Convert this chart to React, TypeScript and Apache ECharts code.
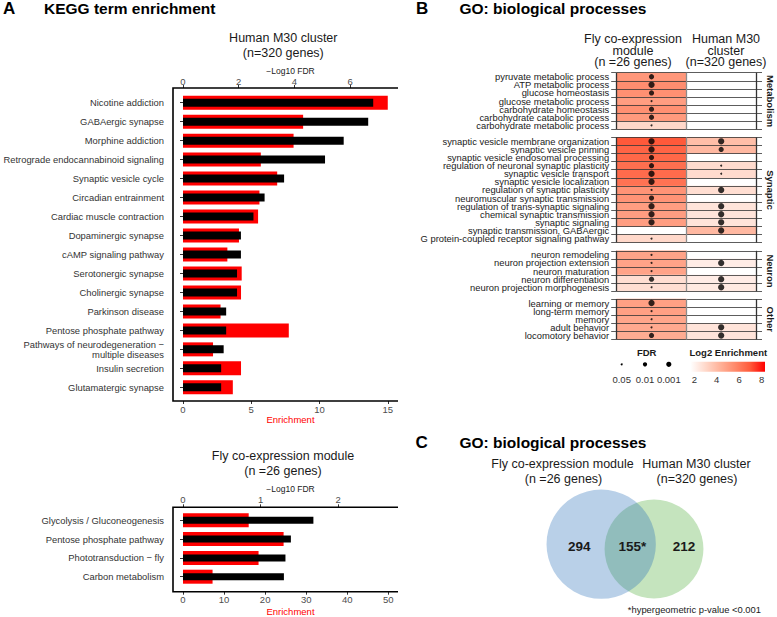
import { useEffect, useRef } from 'react';
import * as echarts from 'echarts';

const FONT = '"Liberation Sans", Arial, Helvetica, sans-serif';

// ---------- Panel A: KEGG, Human M30 cluster ----------
const humanKeggTerms = [
  'Nicotine addiction',
  'GABAergic synapse',
  'Morphine addiction',
  'Retrograde endocannabinoid signaling',
  'Synaptic vesicle cycle',
  'Circadian entrainment',
  'Cardiac muscle contraction',
  'Dopaminergic synapse',
  'cAMP signaling pathway',
  'Serotonergic synapse',
  'Cholinergic synapse',
  'Parkinson disease',
  'Pentose phosphate pathway',
  'Pathways of neurodegeneration \u2212\nmultiple diseases',
  'Insulin secretion',
  'Glutamatergic synapse',
];
const humanKeggEnrichment = [15.0, 8.8, 8.1, 5.7, 6.9, 5.6, 5.5, 4.1, 3.25, 4.3, 4.25, 2.75, 7.75, 2.2, 4.25, 3.65];
const humanKeggLog10FDR = [6.83, 6.65, 5.77, 5.1, 3.63, 2.93, 2.53, 2.08, 2.08, 1.94, 1.94, 1.55, 1.55, 1.46, 1.37, 1.37];
const humanEnrichmentTicks = [0, 5, 10, 15];
const humanFdrTicks = [0, 2, 4, 6];

// ---------- Panel A: KEGG, Fly co-expression module ----------
const flyKeggTerms = [
  'Glycolysis / Gluconeogenesis',
  'Pentose phosphate pathway',
  'Phototransduction \u2212 fly',
  'Carbon metabolism',
];
const flyKeggEnrichment = [16.0, 24.5, 18.4, 7.2];
const flyKeggLog10FDR = [1.68, 1.39, 1.32, 1.3];
const flyEnrichmentTicks = [0, 10, 20, 30, 40, 50];
const flyFdrTicks = [0, 1, 2];

// ---------- Panel B: GO heatmap ----------
const goColumns = ['Fly co-expression module', 'Human M30 cluster'];

const metabolismTerms = [
  'pyruvate metabolic process',
  'ATP metabolic process',
  'glucose homeostasis',
  'glucose metabolic process',
  'carbohydrate homeostasis',
  'carbohydrate catabolic process',
  'carbohydrate metabolic process',
];
const metabolismFlyLog2 = [5.2, 5.5, 5.4, 5.0, 5.4, 5.1, 3.0];
const metabolismHumanLog2 = [null, null, null, null, null, null, null];
const metabolismFlyFDR = [0.001, 0.0001, 0.001, 0.05, 0.001, 0.001, 0.05];
const metabolismHumanFDR = [null, null, null, null, null, null, null];

const synapticTerms = [
  'synaptic vesicle membrane organization',
  'synaptic vesicle priming',
  'synaptic vesicle endosomal processing',
  'regulation of neuronal synaptic plasticity',
  'synaptic vesicle transport',
  'synaptic vesicle localization',
  'regulation of synaptic plasticity',
  'neuromuscular synaptic transmission',
  'regulation of trans-synaptic signaling',
  'chemical synaptic transmission',
  'synaptic signaling',
  'synaptic transmission, GABAergic',
  'G protein-coupled receptor signaling pathway',
];
const synapticFlyLog2 = [7.0, 6.7, 6.6, 6.4, 6.5, 6.3, 5.3, 5.3, 5.0, 5.0, 5.0, null, 3.0];
const synapticHumanLog2 = [3.9, 4.1, null, 2.9, 2.9, null, 2.8, null, 2.6, 2.6, 2.6, 4.1, null];
const synapticFlyFDR = [0.0001, 0.0001, 0.001, 0.001, 0.0001, 0.0001, 0.05, 0.001, 0.0001, 0.0001, 0.0001, null, 0.05];
const synapticHumanFDR = [0.0001, 0.001, null, 0.05, 0.05, null, 0.0001, null, 0.0001, 0.0001, 0.0001, 0.0001, null];

const neuronTerms = [
  'neuron remodeling',
  'neuron projection extension',
  'neuron maturation',
  'neuron differentiation',
  'neuron projection morphogenesis',
];
const neuronFlyLog2 = [4.8, 4.8, 4.8, 2.8, 2.8];
const neuronHumanLog2 = [null, 2.3, null, 2.3, 2.4];
const neuronFlyFDR = [0.05, 0.05, 0.05, 0.001, 0.05];
const neuronHumanFDR = [null, 0.0001, null, 0.0001, 0.0001];

const otherTerms = [
  'learning or memory',
  'long-term memory',
  'memory',
  'adult behavior',
  'locomotory behavior',
];
const otherFlyLog2 = [4.9, 4.9, 4.7, 4.6, 4.5];
const otherHumanLog2 = [null, null, null, 2.6, 2.6];
const otherFlyFDR = [0.0001, 0.05, 0.05, 0.05, 0.001];
const otherHumanFDR = [null, null, null, 0.0001, 0.0001];

const goGroupNames = ['Metabolism', 'Synaptic', 'Neuron', 'Other'];
const fdrLegendValues = [0.05, 0.01, 0.001];
const fdrLegendLabels = ['0.05', '0.01', '0.001'];
const log2Range = [1.65, 8.3];
const log2LegendTicks = [2, 4, 6, 8];

// ---------- Panel C: Venn ----------
const vennFlyOnly = 294;
const vennShared = 155;
const vennHumanOnly = 212;

// ---------- styling / layout ----------
const LOG2_COLORS = ['#FFFFFF', '#FFD9CB', '#FFB299', '#FF896A', '#FF5B3B', '#FF0000'];
const GO_LEFT = 616.7;
const GO_WIDTH = 139.3;
const GO_TOPS = [72.7, 137.3, 250.8, 299];
const GO_ROW = 8.1;

function fdrSize(p: number) {
  if (p <= 0.0001) return 6.3;
  if (p <= 0.001) return 5.2;
  if (p <= 0.01) return 4.3;
  return 2;
}

function txt(x: number, y: number, text: string, o: any = {}) {
  const align = o.align ?? 'center';
  return {
    type: 'text',
    x,
    y,
    rotation: o.rotation ?? 0,
    silent: true,
    z: 10,
    style: {
      text,
      fontFamily: FONT,
      fontSize: o.size ?? 12.5,
      fontWeight: o.weight ?? 'normal',
      fill: o.color ?? '#1a1a1a',
      align,
      verticalAlign: 'middle',
      textAlign: align,
      textVerticalAlign: 'middle',
    },
  };
}

function valueAxis(gridIndex: number, position: string, max: number, ticks: number[], offset: number,
  name: string, nameColor: string, nameSize: number, nameGap: number, labelMargin: number) {
  return {
    type: 'value',
    gridIndex,
    position,
    min: 0,
    max,
    offset,
    name,
    nameLocation: 'middle',
    nameGap,
    nameMoveOverlap: false,
    nameTextStyle: { color: nameColor, fontSize: nameSize, fontFamily: FONT },
    axisLine: { show: false },
    axisTick: { show: true, length: 3, lineStyle: { color: '#333', width: 1 }, customValues: ticks },
    axisLabel: { color: '#4d4d4d', fontSize: 9.5, margin: labelMargin, customValues: ticks, fontFamily: FONT },
    splitLine: { show: false },
  };
}

function catAxis(gridIndex: number, data: string[], offset: number) {
  return {
    type: 'category',
    gridIndex,
    position: 'left',
    inverse: true,
    data,
    offset,
    axisLine: { show: false },
    axisTick: { show: true, alignWithLabel: true, length: 3, interval: 0, lineStyle: { color: '#333', width: 1 } },
    axisLabel: { color: '#333', fontSize: 9.4, margin: 9, interval: 0, lineHeight: 10.6, fontFamily: FONT },
    splitLine: { show: false },
  };
}

function hiddenCat(gridIndex: number, data: string[]) {
  return { type: 'category', gridIndex, position: 'right', inverse: true, data, show: false };
}

function buildOption() {
  const goGroups = [
    { terms: metabolismTerms, fly: metabolismFlyLog2, human: metabolismHumanLog2, flyFdr: metabolismFlyFDR, humanFdr: metabolismHumanFDR },
    { terms: synapticTerms, fly: synapticFlyLog2, human: synapticHumanLog2, flyFdr: synapticFlyFDR, humanFdr: synapticHumanFDR },
    { terms: neuronTerms, fly: neuronFlyLog2, human: neuronHumanLog2, flyFdr: neuronFlyFDR, humanFdr: neuronHumanFDR },
    { terms: otherTerms, fly: otherFlyLog2, human: otherHumanLog2, flyFdr: otherFlyFDR, humanFdr: otherHumanFDR },
  ];

  // KEGG layouts
  const H = { left: 183, top: 93.2, width: 215, height: 303.6, lineTop: 88, lineBottom: 401, lineLeft: 173 };
  const F = { left: 183, top: 510.9, width: 215, height: 75.2, lineTop: 507.3, lineBottom: 591.7, lineLeft: 173 };

  const grids: any[] = [
    { left: H.left, top: H.top, width: H.width, height: H.height, outerBoundsMode: 'none' },
    { left: F.left, top: F.top, width: F.width, height: F.height, outerBoundsMode: 'none' },
    ...goGroups.map((g, i) => ({ left: GO_LEFT, top: GO_TOPS[i], width: GO_WIDTH, height: g.terms.length * GO_ROW, outerBoundsMode: 'none' })),
  ];

  const xAxes: any[] = [
    valueAxis(0, 'bottom', 15.75, humanEnrichmentTicks, H.lineBottom - (H.top + H.height), 'Enrichment', '#FF0000', 9.5, 13.5, 3),
    valueAxis(0, 'top', 7.72, humanFdrTicks, H.top - H.lineTop, '\u2212Log10 FDR', '#1a1a1a', 8.5, 12.5, 1.5),
    valueAxis(1, 'bottom', 52.36, flyEnrichmentTicks, F.lineBottom - (F.top + F.height), 'Enrichment', '#FF0000', 9.5, 15, 2.6),
    valueAxis(1, 'top', 2.77, flyFdrTicks, F.top - F.lineTop, '\u2212Log10 FDR', '#1a1a1a', 8.5, 13.5, 2.6),
    ...goGroups.map((_g, i) => ({
      type: 'category',
      gridIndex: 2 + i,
      data: goColumns,
      z: 5,
      axisLine: { show: false },
      axisTick: { show: false },
      axisLabel: { show: false },
      splitLine: { show: true, interval: 0, lineStyle: { color: ['#333333', '#8c8c8c', '#333333'], width: 1.3 } },
    })),
  ];

  const yAxes: any[] = [
    catAxis(0, humanKeggTerms, H.left - H.lineLeft),
    hiddenCat(0, humanKeggTerms),
    catAxis(1, flyKeggTerms, F.left - F.lineLeft),
    hiddenCat(1, flyKeggTerms),
    ...goGroups.map((g, i) => ({
      type: 'category',
      gridIndex: 2 + i,
      position: 'left',
      inverse: true,
      data: g.terms,
      z: 5,
      axisLine: { show: false },
      axisTick: { show: true, length: 5.5, interval: 0, lineStyle: { color: '#333', width: 0.8 } },
      axisLabel: { color: '#1a1a1a', fontSize: 9.4, margin: 7.5, interval: 0, fontFamily: FONT },
      splitLine: { show: true, interval: 0, lineStyle: { color: '#333', width: 0.8 } },
    })),
    ...goGroups.map((g, i) => ({
      type: 'category',
      gridIndex: 2 + i,
      position: 'right',
      inverse: true,
      data: g.terms,
      z: 5,
      axisLine: { show: false },
      axisTick: { show: true, length: 6, interval: 0, lineStyle: { color: '#333', width: 0.8 } },
      axisLabel: { show: false },
      splitLine: { show: false },
    })),
  ];

  const series: any[] = [
    { type: 'bar', xAxisIndex: 0, yAxisIndex: 0, data: humanKeggEnrichment, barWidth: 14, itemStyle: { color: '#FF0000' }, silent: true, z: 2 },
    { type: 'bar', xAxisIndex: 1, yAxisIndex: 1, data: humanKeggLog10FDR, barWidth: 8, itemStyle: { color: '#000000' }, silent: true, z: 3 },
    { type: 'bar', xAxisIndex: 2, yAxisIndex: 2, data: flyKeggEnrichment, barWidth: 14, itemStyle: { color: '#FF0000' }, silent: true, z: 2 },
    { type: 'bar', xAxisIndex: 3, yAxisIndex: 3, data: flyKeggLog10FDR, barWidth: 7, itemStyle: { color: '#000000' }, silent: true, z: 3 },
  ];

  goGroups.forEach((g, i) => {
    const cells: any[] = [];
    g.terms.forEach((_t, r) => {
      if (g.fly[r] != null) cells.push([0, r, g.fly[r]]);
      if (g.human[r] != null) cells.push([1, r, g.human[r]]);
    });
    series.push({
      type: 'heatmap',
      xAxisIndex: 4 + i,
      yAxisIndex: 4 + i,
      data: cells,
      silent: true,
      z: 2,
      itemStyle: { borderWidth: 0 },
      emphasis: { disabled: true },
    });
  });
  goGroups.forEach((g, i) => {
    const dots: any[] = [];
    g.terms.forEach((_t, r) => {
      if (g.flyFdr[r] != null) dots.push([0, r, g.flyFdr[r]]);
      if (g.humanFdr[r] != null) dots.push([1, r, g.humanFdr[r]]);
    });
    series.push({
      type: 'scatter',
      xAxisIndex: 4 + i,
      yAxisIndex: 4 + i,
      data: dots,
      symbol: 'circle',
      symbolSize: (v: number[]) => fdrSize(v[2]),
      itemStyle: { color: '#000000' },
      silent: true,
      z: 8,
    });
  });

  // ---------- graphics ----------
  const graphic: any[] = [];
  // panel titles
  graphic.push(txt(3, 8.5, 'A', { size: 17, weight: 'bold', align: 'left', color: '#000' }));
  graphic.push(txt(44, 8.7, 'KEGG term enrichment', { size: 15.5, weight: 'bold', align: 'left', color: '#000' }));
  graphic.push(txt(416, 8.5, 'B', { size: 17, weight: 'bold', align: 'left', color: '#000' }));
  graphic.push(txt(459.5, 8.7, 'GO: biological processes', { size: 15.5, weight: 'bold', align: 'left', color: '#000' }));
  graphic.push(txt(415.5, 442.5, 'C', { size: 17, weight: 'bold', align: 'left', color: '#000' }));
  graphic.push(txt(459.5, 442.7, 'GO: biological processes', { size: 15.5, weight: 'bold', align: 'left', color: '#000' }));

  // KEGG subtitles
  graphic.push(txt(283.3, 38.3, 'Human M30 cluster'));
  graphic.push(txt(283.3, 52.5, '(n=320 genes)'));
  graphic.push(txt(283, 456, 'Fly co-expression module'));
  graphic.push(txt(283, 471, '(n =26 genes)'));

  // KEGG frames (left + top + bottom axis lines)
  [H, F].forEach((L) => {
    const right = L.left + L.width;
    graphic.push({
      type: 'polyline',
      silent: true,
      z: 10,
      shape: { points: [[right, L.lineTop], [L.lineLeft, L.lineTop], [L.lineLeft, L.lineBottom], [right, L.lineBottom]] },
      style: { stroke: '#000', lineWidth: 1.6, fill: null },
    });
  });

  // GO column headers
  graphic.push(txt(633, 38.7, 'Fly co-expression'));
  graphic.push(txt(633, 50.7, 'module'));
  graphic.push(txt(633, 62.3, '(n =26 genes)'));
  graphic.push(txt(726, 38.7, 'Human M30'));
  graphic.push(txt(726, 50.7, 'cluster'));
  graphic.push(txt(726, 62.3, '(n=320 genes)'));

  // GO facet strips
  goGroups.forEach((g, i) => {
    const cy = GO_TOPS[i] + (g.terms.length * GO_ROW) / 2;
    graphic.push(txt(770, cy, goGroupNames[i], { size: 9.5, weight: 'bold', rotation: -Math.PI / 2, color: '#1a1a1a' }));
  });

  // GO legends
  graphic.push(txt(646.7, 352.3, 'FDR', { size: 9.5, weight: 'bold', color: '#1a1a1a' }));
  graphic.push(txt(728.3, 352.3, 'Log2 Enrichment', { size: 9.5, weight: 'bold', color: '#1a1a1a' }));
  const fdrLegendX = [621.7, 645, 668.8];
  fdrLegendValues.forEach((p, k) => {
    graphic.push({
      type: 'circle',
      silent: true,
      z: 10,
      shape: { cx: fdrLegendX[k], cy: 364.3, r: fdrSize(p) / 2 },
      style: { fill: '#000' },
    });
    graphic.push(txt(fdrLegendX[k], 379.3, fdrLegendLabels[k], { size: 9.5, color: '#333' }));
  });
  const CB_X0 = 690.4;
  const CB_W = 74.6;
  const cbX = (v: number) => CB_X0 + ((v - log2Range[0]) / (log2Range[1] - log2Range[0])) * CB_W;
  graphic.push({
    type: 'rect',
    silent: true,
    z: 10,
    shape: { x: CB_X0, y: 361.7, width: CB_W, height: 10 },
    style: {
      fill: new echarts.graphic.LinearGradient(0, 0, 1, 0,
        LOG2_COLORS.map((c, k) => ({ offset: k / (LOG2_COLORS.length - 1), color: c }))),
    },
  });
  log2LegendTicks.forEach((v) => {
    graphic.push(txt(cbX(v), 379.3, String(v), { size: 9.5, color: '#333' }));
  });

  // Venn diagram
  const flyTotal = vennFlyOnly + vennShared;
  const humanTotal = vennHumanOnly + vennShared;
  const K = 2.58;
  const rFly = K * Math.sqrt(flyTotal);
  const rHuman = K * Math.sqrt(humanTotal);
  graphic.push({
    type: 'circle', silent: true, z: 9,
    shape: { cx: 654, cy: 549, r: rHuman },
    style: { fill: 'rgb(197,228,190)' },
  });
  graphic.push({
    type: 'circle', silent: true, z: 9,
    shape: { cx: 601.2, cy: 544.2, r: rFly },
    style: { fill: 'rgba(36,108,183,0.32)' },
  });
  graphic.push(txt(562.5, 464.3, 'Fly co-expression module'));
  graphic.push(txt(563.5, 479, '(n =26 genes)'));
  graphic.push(txt(696.5, 464.3, 'Human M30 cluster'));
  graphic.push(txt(697, 479, '(n=320 genes)'));
  graphic.push(txt(579.3, 546.7, String(vennFlyOnly), { size: 13.5, weight: 'bold' }));
  graphic.push(txt(632.3, 546.7, String(vennShared) + '*', { size: 13.5, weight: 'bold' }));
  graphic.push(txt(684, 546.7, String(vennHumanOnly), { size: 13.5, weight: 'bold' }));
  graphic.push(txt(761, 609.3, '*hypergeometric p-value <0.001', { size: 9.4, align: 'right' }));

  return {
    animation: false,
    backgroundColor: '#ffffff',
    textStyle: { fontFamily: FONT },
    grid: grids,
    xAxis: xAxes,
    yAxis: yAxes,
    visualMap: {
      type: 'continuous',
      show: false,
      min: log2Range[0],
      max: log2Range[1],
      dimension: 2,
      seriesIndex: [4, 5, 6, 7],
      inRange: { color: LOG2_COLORS },
    },
    series,
    graphic: { elements: graphic },
  };
}

export default function App() {
  const ref = useRef<HTMLDivElement>(null);
  useEffect(() => {
    if (!ref.current) return;
    const chart = echarts.init(ref.current, null, { renderer: 'svg', width: 777, height: 617 });
    chart.setOption(buildOption() as any);
    return () => chart.dispose();
  }, []);
  return (
    <div
      ref={ref}
      style={{ position: 'absolute', left: 0, top: 0, width: 777, height: 617, background: '#ffffff' }}
    />
  );
}
